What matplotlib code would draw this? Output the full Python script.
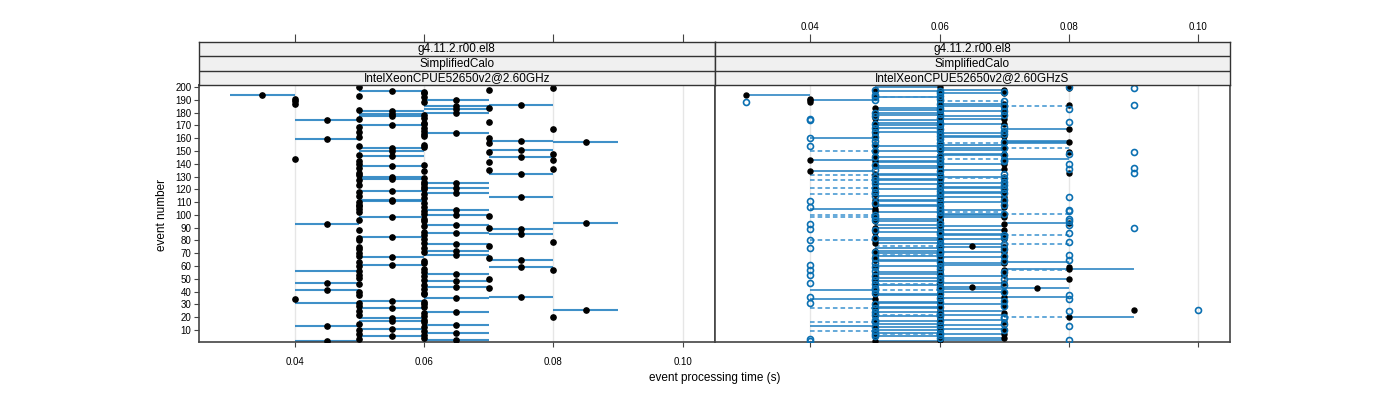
import numpy as np
import matplotlib
matplotlib.use("Agg")
import matplotlib.pyplot as plt

plt.rcParams['font.family'] = ['Liberation Sans', 'DejaVu Sans']

# event numbers 1..200
events = list(range(1, 201))

# left panel: IntelXeonCPUE52650v2@2.60GHz  (times in ms)
left_dot = [
    45, 65, 50, 60, 55, 60, 50, 65, 60, 50,
    55, 60, 45, 65, 50, 60, 55, 60, 55, 80,
    60, 50, 60, 65, 50, 85, 55, 60, 50, 60,
    50, 60, 55, 40, 65, 75, 50, 60, 60, 50,
    45, 60, 70, 65, 60, 50, 45, 65, 60, 70,
    50, 60, 50, 65, 60, 50, 80, 60, 75, 50,
    55, 60, 50, 60, 75, 70, 55, 50, 65, 50,
    60, 65, 50, 60, 50, 70, 65, 60, 80, 50,
    60, 50, 55, 60, 75, 65, 60, 50, 75, 70,
    60, 65, 45, 85, 60, 50, 60, 55, 70, 65,
    60, 50, 60, 65, 50, 60, 50, 50, 60, 50,
    55, 55, 60, 75, 50, 60, 65, 50, 55, 60,
    65, 60, 50, 60, 65, 60, 50, 55, 60, 55,
    50, 75, 50, 60, 70, 80, 50, 55, 60, 50,
    70, 50, 80, 40, 75, 55, 50, 80, 70, 55,
    75, 55, 60, 50, 60, 70, 85, 75, 45, 70,
    50, 60, 60, 65, 50, 60, 80, 60, 50, 55,
    60, 60, 70, 45, 50, 60, 55, 60, 55, 65,
    55, 50, 65, 70, 65, 75, 40, 60, 40, 65,
    40, 60, 50, 35, 60, 60, 55, 70, 80, 50,
]
left_lo = [
    40, 60, 50, 60, 50, 60, 50, 60, 60, 50,
    50, 60, 40, 60, 50, 60, 50, 60, 50, 80,
    60, 50, 60, 60, 50, 80, 50, 60, 50, 60,
    40, 60, 50, 40, 60, 70, 50, 60, 60, 50,
    40, 60, 70, 60, 60, 50, 40, 60, 60, 70,
    50, 60, 50, 60, 60, 40, 80, 60, 70, 50,
    50, 60, 50, 60, 70, 70, 50, 50, 60, 50,
    60, 60, 50, 60, 50, 70, 60, 60, 80, 50,
    60, 50, 50, 60, 70, 60, 60, 50, 70, 70,
    60, 60, 40, 80, 60, 50, 60, 50, 70, 60,
    60, 50, 60, 60, 50, 60, 50, 50, 60, 50,
    50, 50, 60, 70, 50, 60, 60, 50, 50, 60,
    60, 60, 50, 60, 60, 60, 50, 50, 60, 50,
    50, 70, 50, 60, 70, 80, 50, 50, 60, 50,
    70, 50, 80, 40, 70, 50, 50, 80, 70, 50,
    70, 50, 60, 50, 60, 70, 80, 70, 40, 70,
    50, 60, 60, 60, 50, 60, 80, 60, 50, 50,
    60, 60, 70, 40, 50, 60, 50, 60, 50, 60,
    50, 50, 60, 70, 60, 70, 40, 60, 40, 60,
    40, 60, 50, 30, 60, 60, 50, 70, 80, 50,
]
left_hi = [
    50, 70, 50, 60, 60, 60, 50, 70, 60, 50,
    60, 60, 50, 70, 50, 60, 60, 60, 60, 80,
    60, 50, 60, 70, 50, 90, 60, 60, 50, 60,
    50, 60, 60, 40, 70, 80, 50, 60, 60, 50,
    50, 60, 70, 70, 60, 50, 50, 70, 60, 70,
    50, 60, 50, 70, 60, 50, 80, 60, 80, 50,
    60, 60, 50, 60, 80, 70, 60, 50, 70, 50,
    60, 70, 50, 60, 50, 70, 70, 60, 80, 50,
    60, 50, 60, 60, 80, 70, 60, 50, 80, 70,
    60, 70, 50, 90, 60, 50, 60, 60, 70, 70,
    60, 50, 60, 70, 50, 60, 50, 50, 60, 50,
    60, 60, 60, 80, 50, 60, 70, 50, 60, 60,
    70, 60, 50, 60, 70, 60, 50, 60, 60, 60,
    50, 80, 50, 60, 70, 80, 50, 60, 60, 50,
    70, 50, 80, 40, 80, 60, 50, 80, 70, 60,
    80, 60, 60, 50, 60, 70, 90, 80, 50, 70,
    50, 60, 60, 70, 50, 60, 80, 60, 50, 60,
    60, 60, 70, 50, 50, 60, 60, 60, 60, 70,
    60, 50, 70, 70, 70, 80, 40, 60, 40, 70,
    40, 60, 50, 40, 60, 60, 60, 70, 80, 50,
]

# right panel: IntelXeonCPUE52650v2@2.60GHzS  (times in ms)
right_fill = [
    50, 60, 60, 70, 50, 60, 70, 50, 60, 60,
    70, 50, 50, 60, 60, 70, 50, 60, 60, 80,
    50, 60, 70, 50, 60, 90, 60, 50, 70, 60,
    50, 60, 70, 50, 60, 70, 60, 50, 60, 70,
    50, 60, 75, 65, 50, 60, 70, 50, 60, 80,
    50, 60, 70, 50, 60, 60, 70, 80, 80, 50,
    60, 70, 70, 60, 50, 60, 70, 50, 60, 60,
    70, 50, 60, 60, 70, 65, 60, 50, 60, 50,
    70, 60, 50, 70, 60, 60, 50, 70, 60, 50,
    60, 60, 70, 80, 50, 60, 60, 70, 50, 60,
    70, 60, 50, 60, 50, 70, 60, 50, 60, 70,
    60, 50, 60, 70, 60, 50, 60, 70, 60, 50,
    60, 70, 60, 50, 60, 70, 60, 50, 60, 70,
    60, 50, 80, 40, 60, 70, 60, 50, 60, 70,
    60, 50, 40, 70, 60, 50, 60, 70, 80, 50,
    60, 70, 60, 50, 60, 70, 80, 70, 60, 50,
    60, 70, 50, 60, 60, 70, 80, 50, 60, 60,
    70, 50, 60, 60, 70, 50, 60, 60, 70, 50,
    60, 60, 70, 50, 60, 80, 70, 40, 60, 40,
    40, 50, 60, 30, 70, 60, 50, 70, 80, 60,
]
right_solid_lo = [
    50, 60, 50, 60, 50, 60, 60, 50, 60, 50,
    60, 50, 40, 60, 50, 60, 50, 60, 50, 80,
    50, 60, 60, 50, 60, 90, 50, 50, 60, 60,
    50, 50, 60, 40, 60, 70, 50, 50, 60, 60,
    40, 60, 70, 60, 50, 50, 60, 50, 60, 70,
    50, 60, 60, 50, 50, 60, 70, 70, 80, 50,
    60, 60, 70, 50, 50, 60, 60, 50, 60, 50,
    60, 50, 60, 50, 60, 60, 60, 50, 60, 50,
    60, 50, 50, 60, 60, 50, 50, 60, 60, 50,
    60, 50, 60, 70, 50, 60, 50, 60, 50, 60,
    60, 50, 50, 60, 40, 60, 50, 50, 60, 60,
    50, 50, 60, 60, 50, 50, 60, 60, 50, 50,
    60, 60, 50, 50, 60, 60, 50, 50, 60, 60,
    50, 50, 80, 40, 60, 60, 50, 50, 60, 60,
    50, 50, 40, 70, 50, 50, 60, 60, 60, 50,
    60, 60, 50, 50, 60, 70, 70, 70, 50, 40,
    60, 60, 50, 60, 50, 60, 70, 50, 60, 50,
    60, 50, 60, 50, 60, 50, 60, 50, 60, 50,
    60, 50, 60, 50, 60, 80, 60, 40, 60, 40,
    40, 50, 60, 30, 60, 50, 50, 60, 80, 50,
]
right_solid_hi = [
    60, 70, 50, 70, 60, 60, 70, 60, 60, 60,
    70, 60, 50, 70, 60, 60, 60, 70, 50, 90,
    60, 70, 60, 60, 70, 90, 60, 60, 60, 70,
    60, 60, 60, 50, 70, 80, 60, 60, 60, 70,
    50, 70, 80, 70, 60, 50, 70, 60, 60, 80,
    60, 70, 60, 60, 60, 60, 70, 90, 80, 60,
    70, 70, 80, 60, 60, 60, 70, 60, 60, 60,
    70, 60, 60, 60, 70, 60, 70, 60, 60, 60,
    70, 60, 50, 70, 70, 50, 60, 70, 60, 60,
    70, 60, 60, 80, 60, 60, 60, 70, 50, 70,
    70, 60, 50, 70, 50, 60, 60, 60, 60, 70,
    60, 60, 60, 70, 60, 50, 70, 70, 50, 60,
    70, 70, 50, 60, 70, 60, 60, 60, 60, 70,
    60, 60, 80, 50, 70, 60, 60, 60, 60, 70,
    60, 60, 50, 80, 60, 50, 70, 70, 60, 60,
    70, 70, 50, 60, 70, 80, 80, 80, 50, 50,
    70, 70, 50, 70, 60, 60, 80, 60, 60, 60,
    70, 60, 60, 60, 70, 50, 70, 60, 60, 60,
    70, 60, 60, 60, 70, 80, 70, 40, 60, 50,
    40, 60, 60, 40, 70, 50, 60, 70, 80, 60,
]
right_open = [
    40, 80, 40, 60, 50, 60, 50, 60, 50, 70,
    60, 50, 80, 60, 70, 50, 60, 50, 70, 70,
    60, 50, 60, 50, 80, 100, 50, 60, 70, 50,
    40, 60, 70, 80, 60, 40, 80, 60, 50, 70,
    50, 60, 50, 60, 70, 50, 40, 60, 50, 70,
    60, 50, 40, 60, 70, 50, 40, 60, 50, 60,
    40, 50, 60, 70, 80, 50, 60, 70, 80, 60,
    50, 60, 70, 40, 60, 60, 70, 60, 80, 40,
    60, 50, 70, 70, 60, 80, 60, 50, 40, 90,
    60, 80, 40, 60, 80, 50, 80, 50, 60, 50,
    70, 60, 80, 80, 60, 40, 60, 70, 50, 60,
    40, 70, 60, 80, 50, 60, 70, 50, 60, 70,
    50, 60, 70, 60, 50, 70, 50, 60, 70, 50,
    60, 70, 90, 60, 50, 80, 90, 60, 50, 80,
    60, 70, 70, 60, 50, 60, 70, 80, 90, 50,
    60, 70, 60, 40, 50, 60, 70, 50, 60, 40,
    50, 60, 70, 60, 50, 70, 60, 50, 70, 60,
    50, 60, 80, 40, 40, 60, 50, 70, 60, 50,
    70, 60, 80, 60, 70, 90, 60, 30, 70, 50,
    60, 50, 60, 50, 60, 70, 60, 50, 90, 80,
]
# dashed ranges of the second series (sparse)
dash_event = [7, 9, 16, 20, 22, 27, 41, 46, 57, 69, 76, 77, 80, 84, 98,
              100, 101, 102, 116, 121, 127, 129, 131, 144, 150, 152, 156,
              185, 189, 192]
dash_lo = [50, 40, 40, 70, 50, 40, 50, 50, 70, 50, 50, 70, 40, 70, 40,
           40, 70, 60, 40, 40, 40, 60, 40, 60, 40, 70, 60,
           70, 60, 50]
dash_hi = [60, 50, 50, 80, 60, 50, 60, 60, 80, 60, 60, 80, 50, 80, 50,
           50, 80, 70, 50, 50, 50, 70, 50, 70, 50, 80, 70,
           80, 70, 60]

strip_rows = ["g4.11.2.r00.el8", "SimplifiedCalo"]
panel_names = ["IntelXeonCPUE52650v2@2.60GHz", "IntelXeonCPUE52650v2@2.60GHzS"]
xticks = [0.04, 0.06, 0.08, 0.10]
xtick_labels = ["0.04", "0.06", "0.08", "0.10"]
yticks = list(range(10, 201, 10))

line_col = "#2a84c2"
open_col = "#0b70b2"
xlim = (0.0252, 0.1049)
ylim = (0.6, 201.6)

ev = np.array(events)


def sec(a):
    return np.array(a) / 1000.0


fig = plt.figure(figsize=(14, 4), dpi=100)

x0, w = 0.1421, 0.3683
pb, ph = 0.145, 0.6425
sb, sh = 0.7875, 0.1075

ax_l = fig.add_axes([x0, pb, w, ph])
ax_r = fig.add_axes([x0 + w, pb, w, ph])
st_l = fig.add_axes([x0, sb, w, sh])
st_r = fig.add_axes([x0 + w, sb, w, sh])

for ax in (ax_l, ax_r):
    for xv in xticks:
        ax.axvline(xv, color="#e6e6e6", lw=1, zorder=0)
    ax.set_xlim(*xlim)
    ax.set_ylim(*ylim)
    for s in ax.spines.values():
        s.set_color("#444444")
        s.set_linewidth(1.2)

# left panel
lo, hi = sec(left_lo), sec(left_hi)
m = hi > lo
ax_l.hlines(ev[m], lo[m], hi[m], colors=line_col, lw=1.5, alpha=0.9, zorder=2)
ax_l.plot(sec(left_dot), ev, "o", color="black", ms=3.8, zorder=3)

# right panel
slo, shi = sec(right_solid_lo), sec(right_solid_hi)
m = shi > slo
ax_r.hlines(ev[m], slo[m], shi[m], colors=line_col, lw=1.3, alpha=0.9, zorder=2)
ax_r.hlines(dash_event, sec(dash_lo), sec(dash_hi), colors="#3a92cf", lw=1.1,
            linestyles=(0, (3, 2)), zorder=2)
ax_r.plot(sec(right_fill), ev, "o", color="black", ms=3.6, zorder=3)
ax_r.plot(sec(right_open), ev, "o", mfc="none", mec=open_col, mew=1.2, ms=4.3, zorder=4)

# axes ticks
ax_l.set_yticks(yticks)
ax_l.set_yticklabels([str(v) for v in yticks])
ax_l.set_xticks(xticks)
ax_l.set_xticklabels(xtick_labels)
ax_l.tick_params(axis="both", labelsize=7, length=3.5, width=0.8, color="#444444", pad=2)
ax_l.tick_params(axis="x", pad=7)
ax_r.set_yticks([])
ax_r.set_xticks(xticks)
ax_r.tick_params(axis="x", labelbottom=False, length=3.5, width=0.8, color="#444444")

# strips
for st, name, top_labels in ((st_l, panel_names[0], False), (st_r, panel_names[1], True)):
    st.set_xlim(*xlim)
    st.set_ylim(0, 3)
    st.set_facecolor("#f0f0f0")
    st.set_yticks([])
    st.xaxis.tick_top()
    st.set_xticks(xticks)
    st.set_xticklabels(xtick_labels if top_labels else [])
    st.tick_params(axis="x", labelsize=7, length=6, width=0.8, color="#444444", pad=1)
    for s in st.spines.values():
        s.set_color("#333333")
        s.set_linewidth(1.0)
    st.axhline(1, color="#333333", lw=1.0)
    st.axhline(2, color="#333333", lw=1.0)
    labels = strip_rows + [name]
    for i, txt in enumerate(labels):
        st.text(0.5 * (xlim[0] + xlim[1]), 2.5 - i, txt, ha="center", va="center", fontsize=8.5)

fig.text(0.116, 0.4625, "event number", rotation=90, ha="center", va="center", fontsize=8.5)
fig.text(x0 + w, 0.055, "event processing time (s)", ha="center", va="center", fontsize=8.5)

fig.savefig("out.png", dpi=100)
